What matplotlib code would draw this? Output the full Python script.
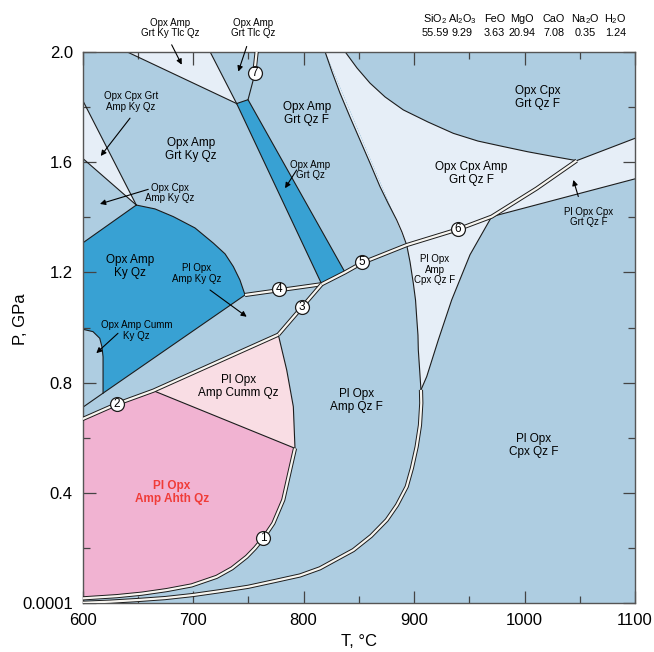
import numpy as np
import matplotlib
matplotlib.use("Agg")
import matplotlib.pyplot as plt

plt.rcParams['font.family'] = ['Liberation Sans', 'DejaVu Sans']
plt.rcParams['mathtext.fontset'] = 'custom'
plt.rcParams['mathtext.rm'] = 'Liberation Sans'
plt.rcParams['mathtext.it'] = 'Liberation Sans:italic'
plt.rcParams['mathtext.bf'] = 'Liberation Sans:bold'

# ---- bulk composition (wt%) ----
oxides = ['SiO$_2$', 'Al$_2$O$_3$', 'FeO', 'MgO', 'CaO', 'Na$_2$O', 'H$_2$O']
wt_pct = ['55.59', '9.29', '3.63', '20.94', '7.08', '0.35', '1.24']

# ---- field boundaries: T (degC), P (GPa) ----
tlc_T = [640.0, 715.4, 739.5]                 # Opx Amp Grt Ky Tlc Qz
tlc_P = [2.0, 2.0, 1.812]
cpxgrt_T = [600.0, 648.7, 600.0]              # Opx Cpx Grt Amp Ky Qz
cpxgrt_P = [1.825, 1.444, 1.614]
ky_top_T = [600.0, 648.7]                     # upper limit of Opx Amp Ky Qz
ky_top_P = [1.306, 1.444]
ky_arc_T = [648.7, 665.6, 682.2, 701.8, 718.4, 729.0, 736.5, 742.5, 747.1]
ky_arc_P = [1.444, 1.430, 1.402, 1.361, 1.306, 1.267, 1.221, 1.172, 1.118]
ky_low_T = [747.1, 618.6, 600.0]              # lower limit of Opx Amp Ky Qz
ky_low_P = [1.118, 0.762, 0.710]
cumm_T = [618.6, 618.6, 617.6, 615.6, 609.5, 600.0]
cumm_P = [0.762, 0.894, 0.930, 0.961, 0.985, 0.994]
strip_T = [739.5, 749.8, 837.6, 816.5]        # Opx Amp Grt Qz
strip_P = [1.812, 1.826, 1.200, 1.157]
r7_low_T = [749.8, 755.0]
r7_low_P = [1.826, 1.905]
r7_up_T = [755.0, 757.6]
r7_up_P = [1.905, 2.0]
r4_T = [747.1, 816.5]
r4_P = [1.118, 1.157]
r3_T = [816.5, 777.2]
r3_P = [1.157, 0.974]
r2_T = [600.0, 631.2, 664.1, 777.2]
r2_P = [0.668, 0.723, 0.771, 0.974]
cumm_r_T = [777.2, 784.8, 790.8, 792.3]
cumm_r_P = [0.974, 0.846, 0.713, 0.562]
ahth_T = [664.1, 792.3]
ahth_P = [0.771, 0.562]
r1_T = [792.3, 787.8, 781.7, 772.7, 763.6, 756.1, 748.6, 735.3, 721.4, 698.8,
        676.2, 653.6, 631.0, 600.2]
r1_P = [0.562, 0.483, 0.375, 0.290, 0.236, 0.200, 0.169, 0.127, 0.096, 0.065,
        0.048, 0.035, 0.026, 0.018]
r56_T = [816.5, 837.6, 852.7, 893.4, 939.8, 970.3, 1011.0, 1047.2]
r56_P = [1.157, 1.200, 1.234, 1.299, 1.356, 1.402, 1.504, 1.605]
grt_top_T = [837.6, 848.4, 860.2, 873.8, 890.3, 912.7, 935.6, 957.9, 980.8, 1003.2, 1026.1, 1047.2]
grt_top_P = [2.0, 1.941, 1.886, 1.836, 1.789, 1.745, 1.704, 1.676, 1.656, 1.637, 1.620, 1.605]
right_up_T = [1047.2, 1100.0]
right_up_P = [1.605, 1.686]
right_low_T = [970.3, 1100.0]
right_low_P = [1.402, 1.539]
amp_out_T = [819.5, 825.8, 833.0, 842.1, 851.1, 860.2, 869.2, 876.5, 884.3, 889.1, 893.4,
             896.4, 899.4, 901.4, 902.4, 903.6, 903.9, 905.0, 906.3]
amp_out_P = [2.0, 1.927, 1.850, 1.763, 1.680, 1.596, 1.511, 1.451, 1.390, 1.346, 1.299,
             1.238, 1.160, 1.099, 1.039, 0.972, 0.919, 0.853, 0.774]
i_56 = amp_out_T.index(893.4)                 # where the curve crosses reaction 5-6
wedge_T = [970.3, 950.7, 934.1, 922.0, 911.5, 906.3]
wedge_P = [1.402, 1.264, 1.100, 0.955, 0.822, 0.774]
fluid_T = [906.3, 906.6, 905.4, 902.4, 898.1, 893.4, 884.6, 875.3, 861.1, 845.1, 828.6,
           814.9, 796.8, 774.2, 750.0, 724.3, 699.7, 674.6, 650.0, 624.9, 600.2]
fluid_P = [0.774, 0.726, 0.646, 0.568, 0.490, 0.423, 0.356, 0.302, 0.244, 0.193, 0.157,
           0.127, 0.101, 0.081, 0.060, 0.044, 0.030, 0.019, 0.012, 0.006, 0.002]

# numbered reactions
rxn_id = ['1', '2', '3', '4', '5', '6', '7']
rxn_T = [763.6, 631.2, 798.4, 778.0, 852.7, 939.8, 756.1]
rxn_P = [0.236, 0.723, 1.076, 1.140, 1.236, 1.356, 1.922]

# colours
c_mid = '#aecde1'
c_dark = '#38a1d3'
c_pale = '#e6eef7'
c_pink = '#f1b3d2'
c_lpink = '#f9dde4'
c_band = '#f7f5f0'
c_line = '#1c1c1c'

fig = plt.figure(figsize=(6.54, 6.52), dpi=100)
fig.patch.set_facecolor('white')
ax = fig.add_axes([82.5 / 654, (652 - 603.3) / 652, (635 - 82.5) / 654, (603.3 - 51.7) / 652])
ax.set_xlim(600, 1100)
ax.set_ylim(0.0001, 2.0)
ax.set_facecolor(c_mid)


def poly(T, P, color):
    ax.fill(T, P, color=color, lw=0, zorder=1)


def sline(T, P, lw=0.8):
    ax.plot(T, P, color=c_line, lw=lw, zorder=2, solid_joinstyle='round')


def dline(T, P):
    ax.plot(T, P, color=c_line, lw=3.0, zorder=3, solid_capstyle='butt', solid_joinstyle='round')
    ax.plot(T, P, color=c_band, lw=1.6, zorder=3, solid_capstyle='butt', solid_joinstyle='round')


# ---- filled fields ----
poly(tlc_T, tlc_P, c_pale)
poly(cpxgrt_T, cpxgrt_P, c_pale)
poly(ky_top_T + ky_arc_T + ky_low_T[1:2] + cumm_T[1:] + [600.0],
     ky_top_P + ky_arc_P + ky_low_P[1:2] + cumm_P[1:] + [1.306], c_dark)
poly(strip_T, strip_P, c_dark)
poly(r2_T[:3] + ahth_T[1:] + r1_T[1:], r2_P[:3] + ahth_P[1:] + r1_P[1:], c_pink)
poly(r2_T[2:] + cumm_r_T[1:] + [r2_T[2]], r2_P[2:] + cumm_r_P[1:] + [r2_P[2]], c_lpink)
poly(amp_out_T[:i_56 + 1][::-1] + r56_T[3:] + grt_top_T[::-1] + [819.5],
     amp_out_P[:i_56 + 1][::-1] + r56_P[3:] + grt_top_P[::-1] + [2.0], c_pale)
poly(r56_T[3:6] + wedge_T[1:] + amp_out_T[i_56:][::-1],
     r56_P[3:6] + wedge_P[1:] + amp_out_P[i_56:][::-1], c_pale)
poly(r56_T[5:] + right_up_T[1:] + right_low_T[1:],
     r56_P[5:] + right_up_P[1:] + right_low_P[1:], c_pale)

# ---- single boundaries ----
sline([tlc_T[0], tlc_T[2]], [tlc_P[0], tlc_P[2]])
sline([tlc_T[1], tlc_T[2]], [tlc_P[1], tlc_P[2]])
sline(cpxgrt_T[:2], cpxgrt_P[:2])
sline(cpxgrt_T[1:], cpxgrt_P[1:])
sline(ky_top_T, ky_top_P)
sline(ky_arc_T, ky_arc_P)
sline(ky_low_T, ky_low_P)
sline(cumm_T, cumm_P)
sline(strip_T + [strip_T[0]], strip_P + [strip_P[0]])
sline(r7_low_T, r7_low_P)
sline(cumm_r_T, cumm_r_P)
sline(ahth_T, ahth_P)
sline(grt_top_T, grt_top_P)
sline(right_up_T, right_up_P)
sline(right_low_T, right_low_P)
sline(amp_out_T, amp_out_P)
sline(wedge_T, wedge_P)

# ---- reaction bands ----
dline(r7_up_T, r7_up_P)
dline(r4_T, r4_P)
dline(r3_T, r3_P)
dline(r2_T, r2_P)
dline(r1_T, r1_P)
dline(r56_T, r56_P)
dline(fluid_T, fluid_P)

# numbered reactions
ax.plot(rxn_T, rxn_P, 'o', ms=10, mfc='white', mec=c_line, mew=0.9, zorder=4, ls='none')
for k, t, p in zip(rxn_id, rxn_T, rxn_P):
    ax.text(t, p, k, ha='center', va='center', fontsize=8.5, zorder=5)

# ---- field labels ----
big = 8.5
small = 7
labels = [
    ("Opx Amp\nGrt Ky Qz", 698.2, 1.647, big),
    ("Opx Amp\nKy Qz", 643.0, 1.221, big),
    ("Pl Opx\nAmp Ky Qz", 703.3, 1.195, small),
    ("Opx Amp Cumm\nKy Qz", 648.7, 0.988, small),
    ("Pl Opx\nAmp Cumm Qz", 741.0, 0.786, big),
    ("Pl Opx\nAmp Qz F", 848.1, 0.737, big),
    ("Pl Opx\nCpx Qz F", 1008.0, 0.572, big),
    ("Opx Amp\nGrt Qz F", 802.9, 1.775, big),
    ("Opx Amp\nGrt Qz", 805.9, 1.571, small),
    ("Opx Cpx\nGrt Qz F", 1012.0, 1.834, big),
    ("Opx Cpx Amp\nGrt Qz F", 952.2, 1.559, big),
    ("Pl Opx\nAmp\nCpx Qz F", 919.0, 1.210, small),
    ("Pl Opx Cpx\nGrt Qz F", 1057.7, 1.401, small),
    ("Opx Cpx Grt\nAmp Ky Qz", 643.6, 1.820, small),
    ("Opx Cpx\nAmp Ky Qz", 679.2, 1.488, small),
    ("Opx Amp\nGrt Ky Tlc Qz", 679.2, 2.086, small),
    ("Opx Amp\nGrt Tlc Qz", 754.6, 2.086, small),
]
for s, t, p, fs in labels:
    ax.text(t, p, s, ha='center', va='center', fontsize=fs, linespacing=1.1,
            zorder=5, clip_on=False)
ax.text(680.7, 0.402, "Pl Opx\nAmp Ahth Qz", ha='center', va='center', fontsize=big,
        color='#f03c38', fontweight='bold', linespacing=1.1, zorder=5)

arrows = [
    ((680.7, 2.025), (689.8, 1.953)),
    ((748.6, 2.019), (741.0, 1.928)),
    ((643.0, 1.759), (616.5, 1.622)),
    ((659.5, 1.501), (615.8, 1.448)),
    ((715.4, 1.136), (748.6, 1.039)),
    ((632.1, 0.979), (612.5, 0.907)),
    ((793.8, 1.571), (783.3, 1.505)),
    ((1048.7, 1.475), (1044.2, 1.535)),
]
for start, end in arrows:
    ax.annotate('', xy=end, xytext=start, annotation_clip=False, zorder=5,
                arrowprops=dict(arrowstyle='-|>', color='black', lw=0.8,
                                mutation_scale=8, shrinkA=0, shrinkB=0))

# ---- axes ----
ax.set_xticks([600, 700, 800, 900, 1000, 1100])
ax.set_xticks([650, 750, 850, 950, 1050], minor=True)
ax.set_yticks([0.0001, 0.4, 0.8, 1.2, 1.6, 2.0])
ax.set_yticklabels(['0.0001', '0.4', '0.8', '1.2', '1.6', '2.0'])
ax.set_yticks([0.2, 0.6, 1.0, 1.4, 1.8], minor=True)
ax.tick_params(which='both', direction='in', top=True, right=True, colors='#444444',
               labelcolor='black', labelsize=12, pad=7)
ax.tick_params(which='major', length=9, width=0.9)
ax.tick_params(which='minor', length=5, width=0.9)
for sp in ax.spines.values():
    sp.set_color('#555555')
    sp.set_linewidth(1.0)
ax.set_xlabel('T, °C', fontsize=12, va='center')
ax.xaxis.set_label_coords(0.5, -0.0696)
ax.set_ylabel('P, GPa', fontsize=12, va='center')
ax.yaxis.set_label_coords(-0.113, 0.515)

# composition header
ox_x = [435, 462.5, 494.7, 522, 554, 585, 615.5]
for name, val, x in zip(oxides, wt_pct, ox_x):
    fig.text(x / 654, 1 - 19 / 652, name, ha='center', va='center', fontsize=7.8)
    fig.text(x / 654, 1 - 33 / 652, val, ha='center', va='center', fontsize=7.8)

fig.savefig('out.png', dpi=100)
